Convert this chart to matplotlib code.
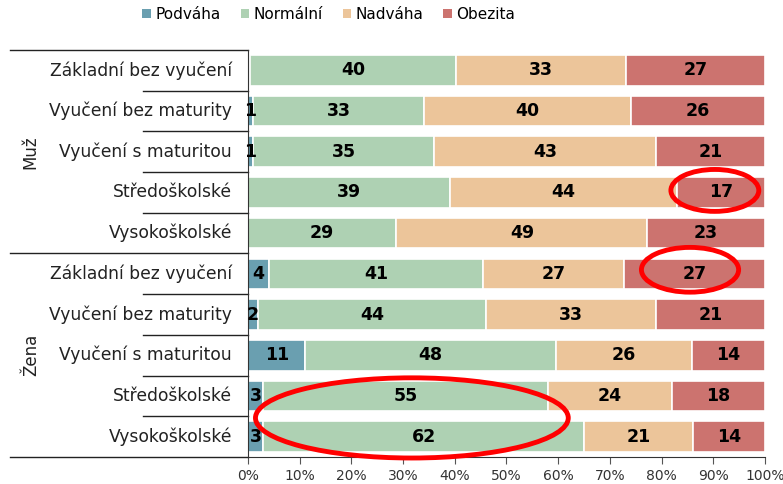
import matplotlib.pyplot as plt
from matplotlib.patches import Ellipse, Patch
import numpy as np

# data, rows from top to bottom
groups = ["Muž", "Žena"]
kategorie = ["Základní bez vyučení", "Vyučení bez maturity", "Vyučení s maturitou",
             "Středoškolské", "Vysokoškolské"]
serie = ["Podváha", "Normální", "Nadváha", "Obezita"]
podvaha = [0.4, 1, 1, 0, 0, 4, 2, 11, 3, 3]
normalni = [40, 33, 35, 39, 29, 41, 44, 48, 55, 62]
nadvaha = [33, 40, 43, 44, 49, 27, 33, 26, 24, 21]
obezita = [27, 26, 21, 17, 23, 27, 21, 14, 18, 14]
barvy = ["#6a9fb0", "#aed1b3", "#ecc59a", "#cc736f"]

vals = np.array([podvaha, normalni, nadvaha, obezita], dtype=float)
pct = vals / vals.sum(axis=0) * 100   # 100% stacked
rows = kategorie * 2
n = len(rows)
y = np.arange(n)

fig = plt.figure(figsize=(7.83, 4.84), dpi=100)
ax = fig.add_axes([0.3167, 0.0558, 0.6603, 0.8409])

left = np.zeros(n)
for k in range(4):
    ax.barh(y, pct[k], left=left, height=0.75, color=barvy[k],
            edgecolor="white", linewidth=1.2)
    for i in range(n):
        if vals[k, i] >= 1:
            ax.text(left[i] + pct[k, i] / 2, y[i], f"{vals[k, i]:.0f}",
                    ha="center", va="center", fontsize=12.5, fontweight="bold",
                    color="black")
    left += pct[k]

ax.set_xlim(0, 100)
ax.set_ylim(n - 0.5, -0.5)
ax.set_xticks(np.arange(0, 101, 10))
ax.set_xticklabels([f"{t}%" for t in range(0, 101, 10)], fontsize=10, color="#333333")
ax.set_yticks([])
ax.tick_params(axis="x", direction="out", length=5, color="#555555")
for s in ["top", "right"]:
    ax.spines[s].set_visible(False)
ax.spines["left"].set_color("#333333")
ax.spines["bottom"].set_color("#333333")

# category labels and separators
tr = ax.get_yaxis_transform()
for i, lab in enumerate(rows):
    ax.text(-0.031, y[i], lab, transform=tr, ha="right", va="center",
            fontsize=12.3, color="#222222", clip_on=False)
for b in range(n + 1):
    x0 = -0.46 if b % 5 == 0 else -0.203
    ax.plot([x0, 0], [b - 0.5, b - 0.5], transform=tr, color="#222222",
            lw=1, clip_on=False)
for g, name in enumerate(groups):
    ax.text(-0.42, g * 5 + 2, name, transform=tr, rotation=90, ha="center",
            va="center", fontsize=12, color="#222222", clip_on=False)

# red highlights
for cx, cy, w, h in [(90.3, 2.95, 17, 1.03), (85.5, 4.9, 18.8, 1.1), (31.7, 8.54, 60.5, 1.97)]:
    ax.add_patch(Ellipse((cx, cy), w, h, fill=False, edgecolor="red", lw=3.5,
                         clip_on=False, zorder=5))

handles = [Patch(facecolor=c, edgecolor="none") for c in barvy]
fig.legend(handles, serie, loc="center", bbox_to_anchor=(0.42, 0.97), ncol=4,
           frameon=False, fontsize=11, handlelength=0.55, handleheight=0.55,
           handletextpad=0.3, columnspacing=1.3)

fig.savefig("out.png", dpi=100)
